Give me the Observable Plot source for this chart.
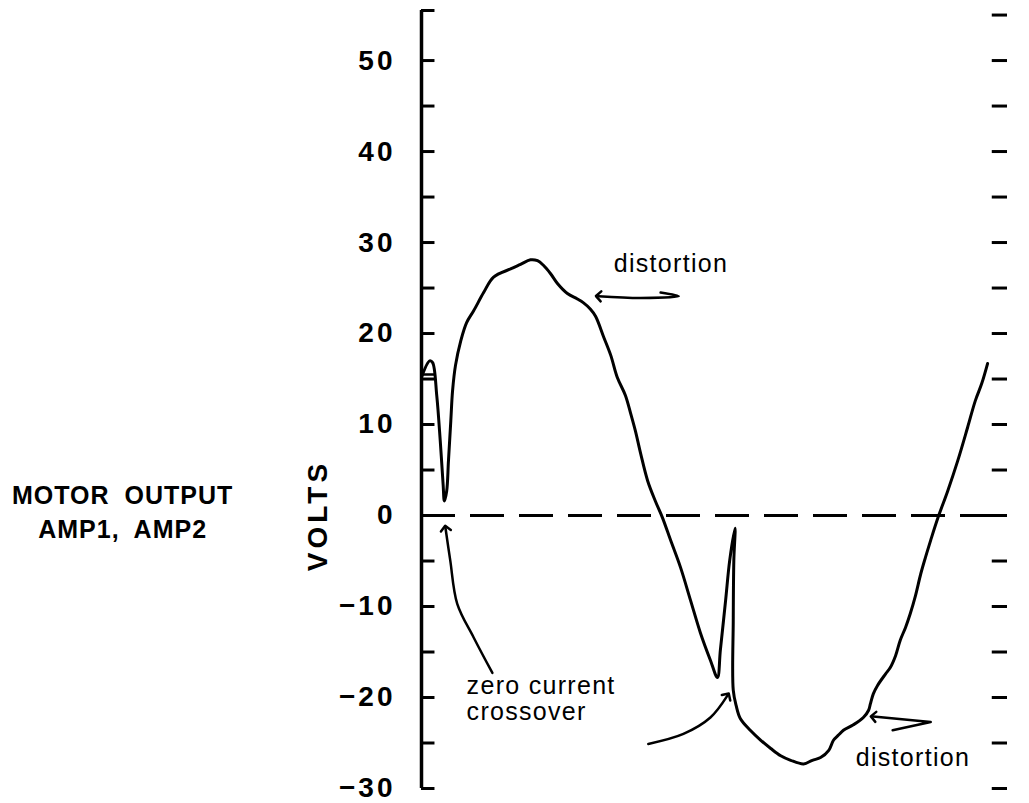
<!DOCTYPE html>
<html><head><meta charset="utf-8">
<script src="https://cdn.jsdelivr.net/npm/d3@7"></script>
<script src="https://cdn.jsdelivr.net/npm/@observablehq/plot@0.6"></script>
<style>
body{margin:0;background:#fff}
#chart svg{display:block}
</style></head><body><div id="chart"></div>
<script>
// waveform: time (arbitrary phase units 0-100) and volts
const time = [0,1.4,1.9,2.6,3.2,3.7,3.9,4.3,4.6,5.0,5.3,5.8,6.7,7.7,8.9,10.6,12.3,15.2,16.9,18.6,19.8,20.8,22.0,23.2,24.9,26.6,27.6,28.8,29.7,31.1,32.3,33.4,34.8,35.7,36.5,37.4,38.6,39.9,41.1,42.5,44.2,45.9,47.6,49.3,50.5,51.0,51.9,52.6,53.5,53.3,53.2,53.2,53.7,54.4,56.1,57.9,59.6,61.3,63.0,65.2,66.7,68.1,69.5,70.3,71.2,72.0,73.7,75.4,76.3,76.6,77.1,77.8,79.2,80.0,80.9,81.7,82.6,83.4,84.3,85.2,86.0,86.9,88.1,89.8,91.5,93.2,94.5,95.6,96.6];
const volts = [15.2,17.0,16.8,13.2,8.2,3.3,1.6,2.7,6.0,10.4,13.7,16.5,19.2,21.2,22.5,24.5,26.2,27.1,27.6,28.1,28.0,27.5,26.6,25.5,24.4,23.8,23.4,22.7,21.9,19.6,17.6,15.2,13.2,11.2,9.3,6.8,3.8,1.6,-0.2,-2.7,-5.7,-9.3,-12.9,-15.9,-17.8,-14.8,-9.3,-4.9,-1.4,-4.9,-11.5,-19.2,-20.9,-22.3,-23.6,-24.7,-25.6,-26.4,-26.9,-27.3,-26.9,-26.6,-25.8,-24.7,-24.1,-23.6,-23.0,-22.2,-21.4,-20.7,-19.6,-18.7,-17.4,-16.7,-15.4,-13.7,-12.3,-10.8,-8.8,-6.4,-4.6,-2.7,-0.3,2.7,6.0,9.7,12.6,14.5,16.7];
// small crossbar of the "A" at the start of the trace
const barTime = [0, 2.2];
const barVolts = [15.5, 15.5];

// axis ticks
const labelTicks = [50, 40, 30, 20, 10, 0, -10, -20, -30];
const leftTicks = [50, 45, 40, 35, 30, 25, 20, 15, 10, 5, 0, -5, -10, -15, -20, -25, -30];
const rightTicks = [55, 50, 45, 40, 35, 30, 25, 20, 15, 10, 5, 0, -5, -10, -15, -20, -25, -30];
const axisTop = 55.5;
const axisBottom = -30;

// annotation arrows
const crossArrowATime = [12.1, 8.9, 6.1, 4.9, 4.1];
const crossArrowAVolts = [-17.3, -13.4, -9.7, -4.9, -1.4];
const crossArrowBTime = [38.7, 44.7, 49.3, 52.2];
const crossArrowBVolts = [-25.1, -24.0, -22.2, -19.8];
const distTopTime = [40.8, 43.9, 37.4, 30.2];
const distTopVolts = [24.5, 24.1, 23.9, 24.1];
const distBottomTime = [80.4, 86.9, 77.1];
const distBottomVolts = [-23.6, -22.7, -22.1];

// annotation texts
const noteText = ["distortion", "distortion", "zero current", "crossover"];
const noteTime = [32.8, 74.1, 7.7, 7.7];
const noteVolts = [27.6, -26.7, -18.7, -21.6];

const sideText = ["MOTOR OUTPUT", "AMP1, AMP2"];
const sideTime = [-51.0, -51.0];
const sideVolts = [2.1, -1.6];
const voltsLabel = "VOLTS";
const voltsLabelTime = -17.6;
const voltsLabelVolts = 0;

const pts = (ts, vs, id) => ts.map((t, i) => ({t, v: vs[i], id}));
const trace = pts(time, volts, "trace");
const bar = pts(barTime, barVolts, "bar");
const notes = noteText.map((s, i) => ({s, t: noteTime[i], v: noteVolts[i]}));
const side = sideText.map((s, i) => ({s, t: sideTime[i], v: sideVolts[i]}));
const fmt = d => d < 0 ? "\u2212" + Math.abs(d) : String(d);

const arrowOpts = {x: "t", y: "v", stroke: "#000", strokeWidth: 2.5, markerEnd: "arrow", curve: "catmull-rom"};

const chart = Plot.plot({
  width: 1029,
  height: 803,
  marginLeft: 421,
  marginRight: 22,
  marginTop: 10,
  marginBottom: 15,
  style: {fontFamily: "'Liberation Sans', Arial, sans-serif", color: "#000", background: "#fff"},
  x: {domain: [0, 100], axis: null},
  y: {domain: [axisBottom, axisTop], axis: null},
  marks: [
    // zero dashed line
    Plot.ruleY([0], {x1: 0, x2: 100, stroke: "#000", strokeWidth: 3, strokeDasharray: "34,15"}),
    // left axis
    Plot.ruleX([0], {y1: axisBottom, y2: axisTop, stroke: "#000", strokeWidth: 3.5}),
    Plot.ruleY(leftTicks, {x1: 0, x2: 2.3, stroke: "#000", strokeWidth: 3}),
    Plot.ruleY([axisTop], {x1: 0, x2: 2.3, stroke: "#000", strokeWidth: 3}),
    // right dashes
    Plot.ruleY(rightTicks, {x1: 97.4, x2: 100, stroke: "#000", strokeWidth: 3}),
    Plot.text(labelTicks, {x: 0, y: d => d, text: fmt, dx: -26, textAnchor: "end", fontSize: 28, fontWeight: "bold", fill: "#000"}),
    Plot.text([voltsLabel], {x: voltsLabelTime, y: voltsLabelVolts, text: d => d, rotate: -90, fontSize: 28, fontWeight: "bold", fill: "#000"}),
    Plot.text(side, {x: "t", y: "v", text: "s", fontSize: 25, fontWeight: "bold", fill: "#000"}),
    // waveform
    Plot.line(trace, {x: "t", y: "v", stroke: "#000", strokeWidth: 3, strokeLinejoin: "round", curve: "catmull-rom"}),
    Plot.line(bar, {x: "t", y: "v", stroke: "#000", strokeWidth: 2.5}),
    // annotation arrows
    Plot.line(pts(crossArrowATime, crossArrowAVolts, "a"), arrowOpts),
    Plot.line(pts(crossArrowBTime, crossArrowBVolts, "b"), arrowOpts),
    Plot.line(pts(distTopTime, distTopVolts, "c"), arrowOpts),
    Plot.line(pts(distBottomTime, distBottomVolts, "d"), {...arrowOpts, curve: "linear"}),
    Plot.text(notes, {x: "t", y: "v", text: "s", textAnchor: "start", fontSize: 25, fill: "#000"})
  ]
});
// letter/word spacing to match the lettering of the original
d3.select(chart).selectAll("text").each(function() {
  const s = this.textContent;
  const el = d3.select(this);
  if (sideText.includes(s)) el.style("letter-spacing", "1px").style("word-spacing", "7px");
  else if (s === voltsLabel) el.style("letter-spacing", "4px");
  else if (noteText.includes(s)) el.style("letter-spacing", "1.3px");
  else el.style("letter-spacing", "3px");
});
document.getElementById("chart").appendChild(chart);
</script>
</body></html>
